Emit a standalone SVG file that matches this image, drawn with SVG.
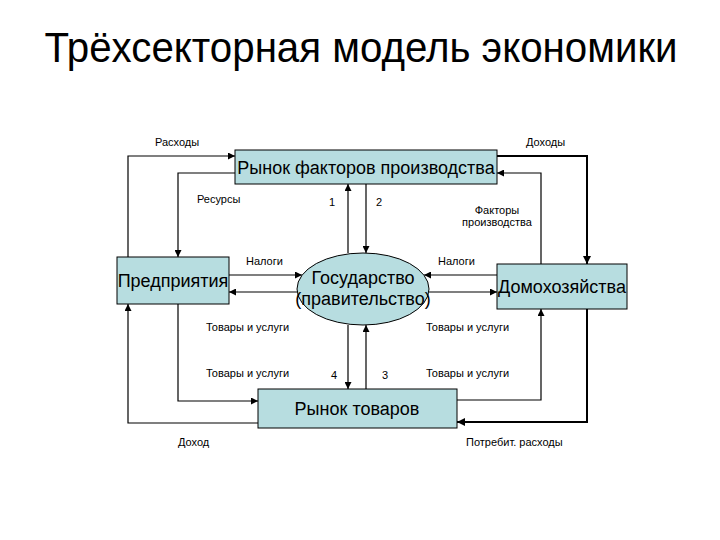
<svg xmlns="http://www.w3.org/2000/svg" width="720" height="540" viewBox="0 0 720 540">
<style>
.node{fill:#b7dde0;stroke:#000;stroke-width:1}
.nt{font-family:"Liberation Sans",Arial,sans-serif;font-size:18px;fill:#000;text-anchor:middle}
.lb{font-family:"Liberation Sans",Arial,sans-serif;font-size:11px;fill:#000}
.c{fill:none;stroke:#000;stroke-width:1.2;marker-end:url(#ah)}
.cb{fill:none;stroke:#000;stroke-width:2;marker-end:url(#ahb)}
</style>
<defs>
<marker id="ah" viewBox="0 0 10 10" refX="10" refY="5" markerWidth="7" markerHeight="7" markerUnits="userSpaceOnUse" orient="auto"><path d="M0,0L10,5L0,10z" fill="#000"/></marker>
<marker id="ahb" viewBox="0 0 10 10" refX="10" refY="5" markerWidth="8" markerHeight="8" markerUnits="userSpaceOnUse" orient="auto"><path d="M0,0L10,5L0,10z" fill="#000"/></marker>
</defs>
<rect width="720" height="540" fill="#fff"/>
<text x="361" y="62" font-family="'Liberation Sans',Arial,sans-serif" font-size="43" text-anchor="middle" textLength="633" lengthAdjust="spacingAndGlyphs">Трёхсекторная модель экономики</text>

<g id="connectors">
<path class="c" d="M128,257 V156 H235"/>
<path class="c" d="M235,173 H178 V257"/>
<path class="cb" d="M497,156 H587 V264"/>
<path class="c" d="M541,264 V173 H497"/>
<path class="c" d="M348,253 V184"/>
<path class="c" d="M366,184 V253"/>
<path class="c" d="M229,275 H302"/>
<path class="c" d="M297,292 H229"/>
<path class="c" d="M497,275 H424"/>
<path class="c" d="M429,292 H497"/>
<path class="c" d="M348,325 V389"/>
<path class="c" d="M366,389 V325"/>
<path class="c" d="M178,304 V401 H258"/>
<path class="c" d="M258,423 H128 V304"/>
<path class="cb" d="M587,309 V422 H457"/>
<path class="c" d="M457,400 H541 V309"/>
</g>

<g id="labels">
<text class="lb" x="155" y="146">Расходы</text>
<text class="lb" x="526" y="146">Доходы</text>
<text class="lb" x="197" y="203">Ресурсы</text>
<text class="lb" x="329" y="206">1</text>
<text class="lb" x="376" y="206">2</text>
<text class="lb" x="497" y="214" text-anchor="middle">Факторы</text>
<text class="lb" x="497" y="226" text-anchor="middle">производства</text>
<text class="lb" x="246" y="265">Налоги</text>
<text class="lb" x="438" y="265">Налоги</text>
<text class="lb" x="206" y="331">Товары и услуги</text>
<text class="lb" x="426" y="331">Товары и услуги</text>
<text class="lb" x="206" y="377">Товары и услуги</text>
<text class="lb" x="426" y="377">Товары и услуги</text>
<text class="lb" x="331" y="379">4</text>
<text class="lb" x="382" y="379">3</text>
<text class="lb" x="178" y="446">Доход</text>
<text class="lb" x="466" y="446">Потребит. расходы</text>
</g>

<g id="factor-market">
<rect class="node" x="235" y="150" width="262" height="34"/>
<text class="nt" x="366" y="174">Рынок факторов производства</text>
</g>
<g id="firms">
<rect class="node" x="117" y="257" width="112" height="47"/>
<text class="nt" x="173" y="287">Предприятия</text>
</g>
<g id="government">
<ellipse class="node" cx="363" cy="289" rx="66" ry="36"/>
<text class="nt" x="363" y="284">Государство</text>
<text class="nt" x="363" y="305">(правительство)</text>
</g>
<g id="households">
<rect class="node" x="497" y="264" width="130" height="45"/>
<text class="nt" x="562" y="293">Домохозяйства</text>
</g>
<g id="goods-market">
<rect class="node" x="258" y="389" width="199" height="39"/>
<text class="nt" x="357" y="415">Рынок товаров</text>
</g>
</svg>
